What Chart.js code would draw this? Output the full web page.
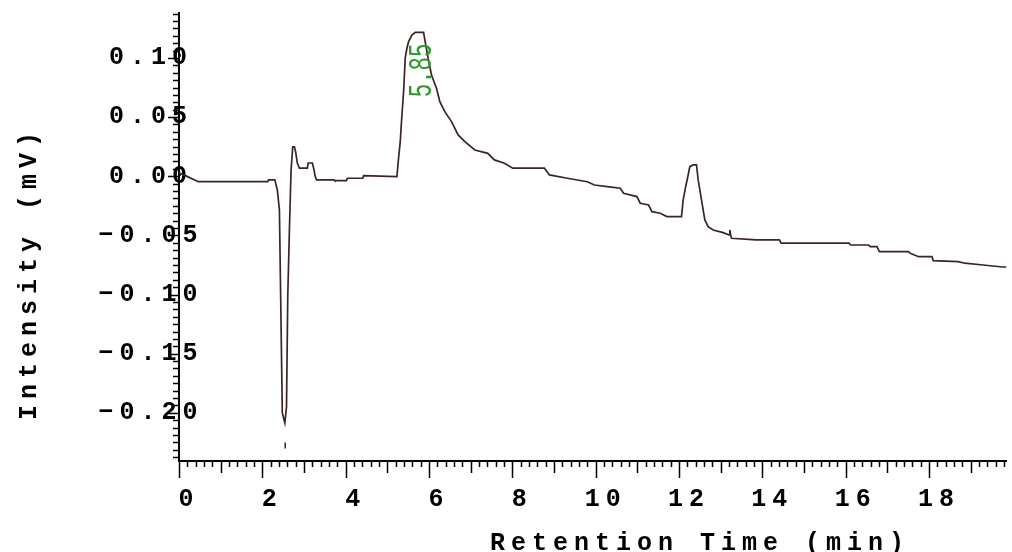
<!DOCTYPE html>
<html>
<head>
<meta charset="utf-8">
<script src="https://cdn.jsdelivr.net/npm/chart.js@4.4.1/dist/chart.umd.min.js"></script>
<style>
    body { margin: 0; background: #ffffff; }
    #chartChromatogram { display: block; }
</style>
</head>
<body>
<canvas id="chartChromatogram" width="1012" height="552"></canvas>
<script>
// retention time (min) / detector signal (mV)
var retentionTime = [
    0, 0.17, 0.46, 2.13, 2.15, 2.30, 2.33, 2.36, 2.41, 2.48,
    2.54, 2.58, 2.61, 2.65, 2.69, 2.73, 2.77, 2.80, 2.84, 2.89,
    3.08, 3.10, 3.20, 3.23, 3.27, 3.30, 3.72, 3.74, 4.02, 4.04,
    4.41, 4.43, 5.23, 5.27, 5.31, 5.34, 5.39, 5.43, 5.47, 5.51,
    5.59, 5.67, 5.87, 5.90, 5.98, 6.06, 6.18, 6.26, 6.38, 6.54,
    6.70, 6.86, 7.10, 7.41, 7.57, 7.81, 8.01, 8.77, 8.89, 9.32,
    9.80, 9.97, 10.28, 10.59, 10.67, 10.99, 11.07, 11.27, 11.35, 11.55,
    11.71, 12.06, 12.10, 12.16, 12.22, 12.26, 12.34, 12.42, 12.46, 12.54,
    12.62, 12.70, 12.82, 13.06, 13.20, 13.22, 13.24, 13.26, 13.85, 14.41,
    14.45, 16.08, 16.12, 16.55, 16.59, 16.75, 16.81, 17.51, 17.55, 17.75,
    18.07, 18.10, 18.70, 18.86, 19.30, 19.77, 19.86
];
var intensity = [
    0.0028, 0.0003, -0.0046, -0.0046, -0.0031, -0.0031, -0.0074, -0.0116, -0.0285, -0.2001,
    -0.2085, -0.1950, -0.1020, -0.0450, 0.0053, 0.0248, 0.0248, 0.0205, 0.0112, 0.0068,
    0.0068, 0.0112, 0.0112, 0.0070, -0.0003, -0.0031, -0.0031, -0.0037, -0.0037, -0.0017,
    -0.0017, 0.0005, -0.0003, 0.0155, 0.0292, 0.0462, 0.0715, 0.1000, 0.1082, 0.1138,
    0.1194, 0.1217, 0.1217, 0.1152, 0.0997, 0.0856, 0.0744, 0.0631, 0.0546, 0.0462,
    0.0349, 0.0292, 0.0222, 0.0194, 0.0138, 0.0110, 0.0068, 0.0068, 0.0011, -0.0017,
    -0.0046, -0.0074, -0.0088, -0.0101, -0.0144, -0.0172, -0.0228, -0.0243, -0.0299, -0.0313,
    -0.0341, -0.0341, -0.0200, -0.0088, 0.0011, 0.0081, 0.0096, 0.0096, -0.0031, -0.0200,
    -0.0369, -0.0426, -0.0454, -0.0477, -0.0496, -0.0454, -0.0496, -0.0524, -0.0538, -0.0538,
    -0.0566, -0.0566, -0.0581, -0.0581, -0.0595, -0.0595, -0.0637, -0.0637, -0.0651, -0.0680,
    -0.0680, -0.0713, -0.0722, -0.0735, -0.0750, -0.0767, -0.0767
];

// integration marker under the solvent dip
var markerTime = [2.55];
var markerValue = [-0.2276];

// peak annotation
var peakTime = [5.85];
var peakHeight = [0.1217];
var peakLabel = ['5.85'];

var xTicks = [0, 2, 4, 6, 8, 10, 12, 14, 16, 18];
var yTicks = [-0.20, -0.15, -0.10, -0.05, 0.00, 0.05, 0.10];

var axisFont = { family: "'Liberation Mono', 'Courier New', monospace", size: 25, weight: 'bold' };
var traceColor = '#3b2424';

function spaced(ctx) {
    ctx.letterSpacing = '6px';
}

var letterSpacingPlugin = {
    id: 'letterSpacing',
    beforeUpdate: function (chart) { spaced(chart.ctx); },
    beforeLayout: function (chart) { spaced(chart.ctx); },
    beforeDraw: function (chart) { spaced(chart.ctx); }
};

// minor / major tick marks (outside the axes), axis titles, peak label
var axisTicksPlugin = {
    id: 'axisTicks',
    afterDraw: function (chart) {
        var ctx = chart.ctx;
        var xs = chart.scales.x, ys = chart.scales.y;
        var area = chart.chartArea;
        ctx.save();
        ctx.strokeStyle = '#000';
        ctx.lineWidth = 1.5;
        ctx.beginPath();
        for (var i = 0; i * 0.2 <= xs.max + 1e-9; i++) {
            var px = Math.round(xs.getPixelForValue(i * 0.2)) + 0.5;
            var len = (i % 10 == 0) ? 17 : (i % 5 == 0 ? 12 : 6);
            ctx.moveTo(px, area.bottom);
            ctx.lineTo(px, area.bottom + len);
        }
        for (var k = -38; k <= 22; k++) {
            var v = k * 0.00625;
            if (v < ys.min || v > ys.max) continue;
            var py = Math.round(ys.getPixelForValue(v)) + 0.5;
            var l = (k % 8 == 0) ? 11 : 6;
            ctx.moveTo(area.left, py);
            ctx.lineTo(area.left - l, py);
        }
        ctx.stroke();

        // axis titles
        ctx.fillStyle = '#000';
        ctx.font = 'bold 25px ' + axisFont.family;
        ctx.letterSpacing = '6px';
        ctx.textAlign = 'left';
        ctx.textBaseline = 'alphabetic';
        ctx.fillText('Retention Time (min)', 490, 550);
        ctx.translate(36, 420);
        ctx.rotate(-Math.PI / 2);
        ctx.fillText('Intensity (mV)', 0, 0);
        ctx.restore();

        // peak retention time label
        ctx.save();
        ctx.fillStyle = '#2a9a2a';
        ctx.font = "16px 'Liberation Mono', monospace";
        ctx.letterSpacing = '0px';
        ctx.textAlign = 'left';
        ctx.textBaseline = 'alphabetic';
        for (var p = 0; p < peakTime.length; p++) {
            var lx = xs.getPixelForValue(peakTime[p]) + 8;
            var ly = ys.getPixelForValue(peakHeight[p]) + 65;
            ctx.save();
            ctx.translate(lx, ly);
            ctx.rotate(-Math.PI / 2);
            ctx.scale(1.4, 2.1);
            ctx.fillText(peakLabel[p], 0, 0);
            ctx.restore();
        }
        ctx.restore();
    }
};

function drawChromatogram() {
    var ctx = document.getElementById('chartChromatogram').getContext('2d');

    var trace = retentionTime.map(function (t, i) { return { x: t, y: intensity[i] }; });
    var marker = markerTime.map(function (t, i) { return { x: t, y: markerValue[i] }; });

    var chart = new Chart(ctx, {
        type: 'line',
        data: {
            datasets: [{
                data: trace,
                borderColor: traceColor,
                borderWidth: 1.7,
                pointRadius: 0,
                tension: 0,
                fill: false
            }, {
                data: marker,
                showLine: false,
                pointStyle: 'line',
                rotation: 90,
                pointRadius: 3,
                borderColor: traceColor,
                borderWidth: 1.5
            }]
        },
        options: {
            responsive: false,
            animation: false,
            devicePixelRatio: 1,
            layout: { padding: { top: 13, right: 0, left: 0, bottom: 0 } },
            plugins: {
                legend: { display: false },
                tooltip: { enabled: false }
            },
            scales: {
                x: {
                    type: 'linear',
                    min: 0,
                    max: 19.86,
                    grid: { display: false, drawTicks: false },
                    border: { display: true, color: '#000', width: 2 },
                    ticks: {
                        color: '#000',
                        font: axisFont,
                        padding: 24,
                        labelOffset: 10,
                        maxRotation: 0,
                        autoSkip: false,
                        callback: function (v) { return String(v); }
                    },
                    afterBuildTicks: function (scale) {
                        scale.ticks = xTicks.map(function (v) { return { value: v }; });
                    },
                    afterFit: function (scale) { scale.height = 91; }
                },
                y: {
                    min: -0.2407,
                    max: 0.138,
                    grid: { display: false, drawTicks: false },
                    border: { display: true, color: '#000', width: 2 },
                    ticks: {
                        color: '#000',
                        font: axisFont,
                        padding: -24.5,
                        crossAlign: 'center',
                        autoSkip: false,
                        callback: function (v) {
                            return (v < -1e-9 ? '\u2212' : '') + Math.abs(v).toFixed(2);
                        }
                    },
                    afterBuildTicks: function (scale) {
                        scale.ticks = yTicks.map(function (v) { return { value: v }; });
                    },
                    afterFit: function (scale) {
                        scale.width = 179;
                        // labels overlap the axis line in the original, so don't clip them to the scale box
                        scale._computeLabelArea = function () { return undefined; };
                    }
                }
            }
        },
        plugins: [letterSpacingPlugin, axisTicksPlugin]
    });
    return chart;
}

drawChromatogram();
</script>
</body>
</html>
